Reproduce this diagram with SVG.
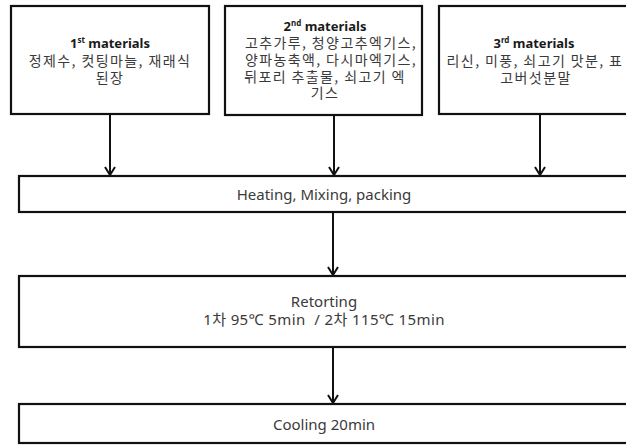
<svg xmlns="http://www.w3.org/2000/svg" width="626" height="445" viewBox="0 0 626 445">
  <style>
    .box { fill: #ffffff; stroke: #111111; stroke-width: 2.2; }
    .wire { fill: none; stroke: #111111; stroke-width: 2; }
    .txt { font-family: "Noto Sans", "Noto Sans CJK KR", sans-serif; font-size: 15px; fill: #3a3a3a; text-anchor: middle; white-space: pre; }
    .kr { font-family: "Noto Sans CJK KR", "Noto Sans", sans-serif; font-size: 14px; letter-spacing: 1.4px; fill: #3a3a3a; text-anchor: middle; }
    .head { font-family: "Noto Sans", "Noto Sans CJK KR", sans-serif; font-size: 13px; font-weight: bold; fill: #1a1a1a; text-anchor: middle; }
    .sup { font-size: 8px; }
  </style>
  <defs>
    <!-- open chevron head, drawn pointing along +x so orient="auto" follows the line -->
    <marker id="chev" viewBox="0 0 12 12" refX="11" refY="6" markerWidth="12" markerHeight="12" markerUnits="userSpaceOnUse" orient="auto">
      <path d="M3 1 L11 6 L3 11" fill="none" stroke="#111111" stroke-width="2"/>
    </marker>
  </defs>
  <rect width="626" height="445" fill="#ffffff"/>

  <g id="connectors">
    <line class="wire" x1="110" y1="114" x2="110" y2="175" marker-end="url(#chev)"/>
    <line class="wire" x1="334" y1="115" x2="334" y2="175" marker-end="url(#chev)"/>
    <line class="wire" x1="540" y1="114" x2="540" y2="175" marker-end="url(#chev)"/>
    <line class="wire" x1="333" y1="212" x2="333" y2="275" marker-end="url(#chev)"/>
    <line class="wire" x1="333" y1="347" x2="333" y2="403" marker-end="url(#chev)"/>
  </g>

  <g id="materials1">
    <rect class="box" x="11" y="6" width="198" height="108"/>
    <text class="head" x="110" y="48">1<tspan class="sup" dy="-5">st</tspan><tspan dy="5"> materials</tspan></text>
    <text class="kr" x="110" y="66">정제수, 컷팅마늘, 재래식</text>
    <text class="kr" x="110" y="83">된장</text>
  </g>

  <g id="materials2">
    <rect class="box" x="225" y="6" width="197" height="109"/>
    <text class="head" x="325" y="31">2<tspan class="sup" dy="-5">nd</tspan><tspan dy="5"> materials</tspan></text>
    <text class="kr" x="331" y="48">고추가루, 청양고추엑기스,</text>
    <text class="kr" x="331" y="65">양파농축액, 다시마엑기스,</text>
    <text class="kr" x="325" y="82">뒤포리 추출물, 쇠고기 엑</text>
    <text class="kr" x="325" y="98">기스</text>
  </g>

  <g id="materials3">
    <rect class="box" x="439" y="6" width="194" height="108"/>
    <text class="head" x="534" y="48">3<tspan class="sup" dy="-5">rd</tspan><tspan dy="5"> materials</tspan></text>
    <text class="kr" x="535" y="66">리신, 미풍, 쇠고기 맛분, 표</text>
    <text class="kr" x="536" y="83">고버섯분말</text>
  </g>

  <g id="heating">
    <rect class="box" x="19" y="176" width="610" height="36"/>
    <text class="txt" x="324" y="200">Heating, Mixing, packing</text>
  </g>

  <g id="retorting">
    <rect class="box" x="19" y="276" width="610" height="71"/>
    <text class="txt" x="324" y="307">Retorting</text>
    <text class="txt" x="324" y="325" letter-spacing="0.4">1차 95℃ 5min  / 2차 115℃ 15min</text>
  </g>

  <g id="cooling">
    <rect class="box" x="19" y="404" width="610" height="39"/>
    <text class="txt" x="324" y="430">Cooling 20min</text>
  </g>
</svg>
